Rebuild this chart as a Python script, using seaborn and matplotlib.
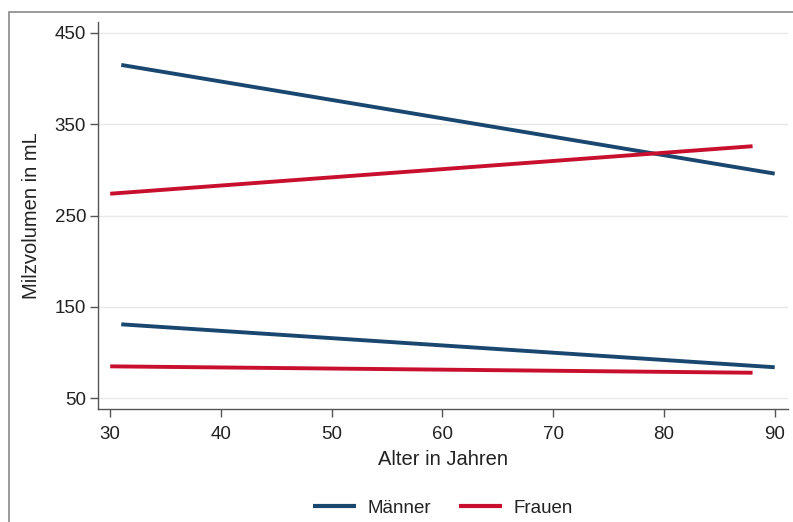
import matplotlib
matplotlib.use("Agg")
import matplotlib.pyplot as plt
import seaborn as sns
import pandas as pd
from matplotlib.patches import Rectangle

# Endpoints of the fitted lines (upper and lower reference limits)
maenner_alter = [31, 90]
maenner_oben = [415, 296]
maenner_unten = [131, 84]

frauen_alter = [30, 88]
frauen_oben = [274, 326]
frauen_unten = [85, 78]

y_ticks = [50, 150, 250, 350, 450]
x_ticks = [30, 40, 50, 60, 70, 80, 90]

rows = []
for alter, oben, unten, name in [
    (maenner_alter, maenner_oben, maenner_unten, "Männer"),
    (frauen_alter, frauen_oben, frauen_unten, "Frauen"),
]:
    for a, v in zip(alter, oben):
        rows.append({"Alter": a, "Volumen": v, "Geschlecht": name, "Linie": name + "_oben"})
    for a, v in zip(alter, unten):
        rows.append({"Alter": a, "Volumen": v, "Geschlecht": name, "Linie": name + "_unten"})
df = pd.DataFrame(rows)

sns.set_theme(style="white")
plt.rcParams["font.family"] = ["Liberation Sans", "DejaVu Sans"]

fig = plt.figure(figsize=(7.93, 5.22), dpi=100)
W, H = 793, 522
ax = fig.add_axes([98 / W, 1 - 409 / H, (788 - 98) / W, (409 - 22) / H])

palette = {"Männer": "#1a476f", "Frauen": "#c8102e"}
sns.lineplot(data=df, x="Alter", y="Volumen", hue="Geschlecht", units="Linie",
             estimator=None, palette=palette, linewidth=2.8, ax=ax,
             solid_capstyle="butt")

ax.set_xlim(28.9, 91.2)
ax.set_ylim(38.3, 462)
ax.set_xticks(x_ticks)
ax.set_yticks(y_ticks)
ax.yaxis.grid(True, color="#e8e8e8", linewidth=1.0)
ax.set_axisbelow(True)
for side in ("top", "right"):
    ax.spines[side].set_visible(False)
for side in ("left", "bottom"):
    ax.spines[side].set_color("#555555")
    ax.spines[side].set_linewidth(1.0)
ax.tick_params(axis="both", direction="out", length=5.5, width=1.0, color="#555555",
               labelsize=13.5, labelcolor="#222222", left=True, bottom=True)
ax.tick_params(axis="y", pad=3)
ax.tick_params(axis="x", pad=7)
ax.set_xlabel("Alter in Jahren", fontsize=14.5, color="#222222", labelpad=5)
ax.set_ylabel("Milzvolumen in mL", fontsize=14.5, color="#222222", labelpad=10)

handles, labels = ax.get_legend_handles_labels()
ax.legend(handles, labels, loc="upper center", bbox_to_anchor=(0.5, -0.19), ncol=2,
          frameon=False, fontsize=13.5, handlelength=2.3, columnspacing=1.5,
          handletextpad=0.6, labelcolor="#222222")
for line in ax.get_legend().get_lines():
    line.set_linewidth(3.0)

# outer frame of the graph region
fig.patches.append(Rectangle((9 / W, -0.1), 1.2, 1 - 12 / H + 0.1,
                             transform=fig.transFigure, fill=False,
                             edgecolor="#8a8a8a", linewidth=1.2))

fig.savefig("out.png", dpi=100)
